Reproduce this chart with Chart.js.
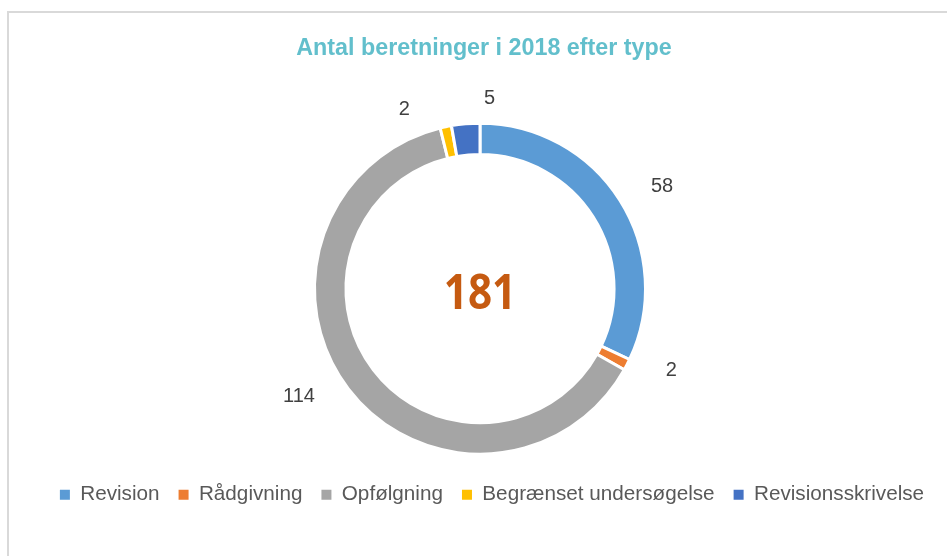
<!DOCTYPE html>
<html>
<head>
<meta charset="utf-8">
<script src="https://cdn.jsdelivr.net/npm/chart.js@4.4.0/dist/chart.umd.min.js"></script>
<style>
  html, body { margin: 0; padding: 0; background: #ffffff; overflow: hidden; width: 947px; height: 556px; }
  #frame { position: absolute; left: 7px; top: 11px; width: 2000px; height: 2000px;
           border-left: 2px solid #d9d9d9; border-top: 2px solid #d9d9d9; }
  #c { position: absolute; left: 8px; top: 0px; }
</style>
</head>
<body>
<div id="frame"></div>
<canvas id="c" width="968" height="556"></canvas>
<script>
const titleText = 'Antal beretninger i 2018 efter type';
const categories = ['Revision', 'Rådgivning', 'Opfølgning', 'Begrænset undersøgelse', 'Revisionsskrivelse'];
const values = [58, 2, 114, 2, 5];
const colors = ['#5B9BD5', '#ED7D31', '#A5A5A5', '#FFC000', '#4472C4'];
const total = values.reduce((a, b) => a + b, 0);

const shiftPlugin = {
  id: 'shift',
  afterLayout(chart) {
    const ca = chart.chartArea;
    ca.right -= 24; ca.width = ca.right - ca.left;
    ca.bottom += 2; ca.height = ca.bottom - ca.top;
    if (chart.titleBlock) { chart.titleBlock.left -= 8; chart.titleBlock.right -= 8; }
  }
};

const labelPlugin = {
  id: 'labels',
  afterDatasetsDraw(chart) {
    const ctx = chart.ctx;
    const meta = chart.getDatasetMeta(0);
    const props = meta.data.map(arc => arc.getProps(['x', 'y', 'startAngle', 'endAngle', 'outerRadius'], true));
    const ang = props.map(p => (p.startAngle + p.endAngle) / 2);
    const minSep = 22 * Math.PI / 180;
    for (let it = 0; it < 20; it++) {
      for (let i = 0; i < ang.length; i++) {
        const j = (i + 1) % ang.length;
        let d = ang[j] - ang[i];
        if (j === 0) d += Math.PI * 2;
        if (d < minSep) {
          const push = (minSep - d) / 2;
          ang[i] -= push; ang[j] += push;
        }
      }
    }
    ctx.save();
    ctx.font = '20px "Liberation Sans", Arial, sans-serif';
    ctx.fillStyle = '#404040';
    ctx.textAlign = 'center';
    ctx.textBaseline = 'middle';
    props.forEach((p, i) => {
      const c = Math.cos(ang[i]), s = Math.sin(ang[i]);
      const rx = p.outerRadius + 50 + (c < 0 ? 12 : 0);
      const ry = p.outerRadius + 25 - (s > 0 ? 12 : 0);
      ctx.fillText(String(values[i]), p.x + c * rx, p.y + s * ry);
    });
    const a0 = props[0];
    ctx.fillStyle = '#C55A11';
    ctx.font = 'bold 48px "Open Sans", sans-serif';
    ctx.textBaseline = 'alphabetic';
    ctx.translate(a0.x, a0.y + 20);
    ctx.scale(0.88, 1);
    ctx.fillText(String(total), 0, 0);
    ctx.restore();
  }
};

new Chart(document.getElementById('c'), {
  type: 'doughnut',
  data: {
    labels: categories,
    datasets: [{
      data: values,
      backgroundColor: colors,
      borderColor: '#ffffff',
      borderWidth: 3,
      hoverOffset: 0
    }]
  },
  options: {
    responsive: false,
    animation: false,
    devicePixelRatio: 1,
    radius: 165.5,
    cutout: '81%',
    layout: { padding: { top: 0, bottom: 41, left: 0, right: 0 } },
    plugins: {
      title: {
        display: true,
        text: titleText,
        color: '#62BFCC',
        font: { family: '"Liberation Sans", Arial, sans-serif', size: 23.3, weight: 'bold', lineHeight: 1.2 },
        padding: { top: 35, bottom: 47 }
      },
      legend: {
        position: 'bottom',
        labels: {
          boxWidth: 10,
          boxHeight: 10,
          padding: 19,
          color: '#595959',
          font: { family: '"Liberation Sans", Arial, sans-serif', size: 20.7 },
          generateLabels(chart) {
            return Chart.controllers.doughnut.overrides.plugins.legend.labels.generateLabels(chart)
              .map(l => Object.assign(l, { lineWidth: 0 }));
          }
        }
      },
      tooltip: { enabled: false }
    }
  },
  plugins: [shiftPlugin, labelPlugin]
});
</script>
</body>
</html>
